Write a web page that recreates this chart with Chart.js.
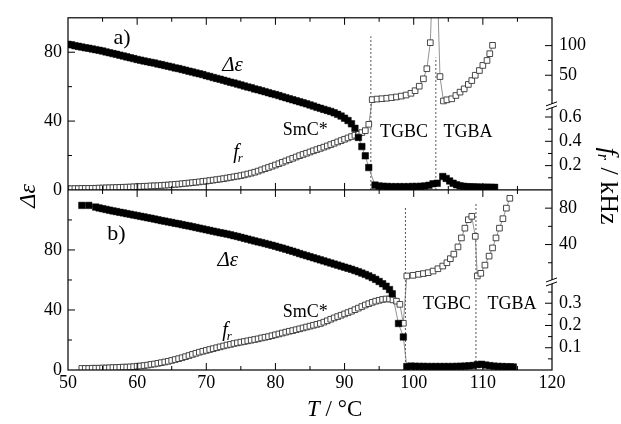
<!DOCTYPE html>
<html><head><meta charset="utf-8">
<script src="https://cdn.jsdelivr.net/npm/chart.js@4.4.0/dist/chart.umd.min.js"></script>
<style>html,body{margin:0;padding:0;background:#fff;}canvas{display:block;}</style>
</head><body>
<canvas id="c" width="621" height="424"></canvas>
<script>
// ---------- DATA (panel a) ----------
const tempA_smc = [50,50.5,51,51.5,52,52.5,53,53.5,54,54.5,55,55.5,56,56.5,57,57.5,58,58.5,59,59.5,
  60,60.5,61,61.5,62,62.5,63,63.5,64,64.5,65,65.5,66,66.5,67,67.5,68,68.5,69,69.5,
  70,70.5,71,71.5,72,72.5,73,73.5,74,74.5,75,75.5,76,76.5,77,77.5,78,78.5,79,79.5,
  80,80.5,81,81.5,82,82.5,83,83.5,84,84.5,85,85.5,86,86.5,87,87.5,88,88.5,89,89.5,
  90,90.5,91,91.5,92,92.5,93,93.5];
const epsA_smc = [84.6,84.3,83.8,83.4,83.0,82.6,82.3,81.9,81.5,81.1,
  80.7,80.2,79.7,79.2,78.8,78.3,77.8,77.3,76.8,76.3,
  75.8,75.4,74.9,74.5,74.1,73.7,73.2,72.8,72.3,71.9,
  71.4,70.9,70.5,70.0,69.5,69.0,68.5,68.0,67.5,67.0,
  66.4,65.9,65.3,64.8,64.3,63.7,63.2,62.6,62.1,61.5,
  61.0,60.4,59.8,59.3,58.7,58.2,57.6,57.1,56.5,55.9,
  55.4,54.8,54.2,53.6,53.0,52.4,51.8,51.2,50.6,50.0,
  49.4,48.7,48.0,47.4,46.8,46.2,45.6,44.8,43.9,42.9,
  41.7,40.3,38.4,35.8,30.5,25.2,19.8,13.0];
const frA_smc = [.010,.010,.011,.011,.012,.012,.013,.013,.014,.015,
  .016,.017,.018,.019,.020,.021,.022,.023,.024,.026,
  .027,.028,.030,.031,.033,.034,.035,.037,.039,.041,
  .043,.046,.048,.051,.054,.057,.060,.063,.066,.070,
  .073,.077,.081,.085,.089,.093,.098,.103,.108,.113,
  .118,.124,.131,.138,.146,.155,.165,.175,.185,.195,
  .205,.216,.227,.238,.249,.260,.271,.282,.292,.302,
  .312,.322,.332,.342,.352,.362,.373,.384,.395,.406,
  .417,.428,.439,.450,.461,.472,.488,.540];
const tempA_tgb = [94.4,95.0,95.6,96.2,96.8,97.4,98.0,98.6,99.2,99.8,100.4,101.0,101.6,102.2,102.8,103.4,
  104.2,104.7,105.2,105.7,106.2,106.7,107.2,107.7,108.2,108.7,109.2,109.7,110.2,110.7,111.2,111.7];
const epsA_tgb = [2.8,2.3,2.1,2.0,1.9,1.9,1.9,1.9,1.9,2.0,2.0,2.1,2.3,2.7,3.6,3.9,
  7.8,6.7,5.2,3.9,3.0,2.4,2.1,1.9,1.8,1.7,1.7,1.6,1.6,1.6,1.5,1.5];
const tempA_hi = [94.0,94.7,95.4,96.1,96.8,97.5,98.2,98.9,99.6,100.2,100.8,101.4,101.9,102.4,103.1,103.8,
  104.3,104.8,105.5,106.1,106.7,107.3,107.9,108.4,108.9,109.5,110.0,110.6,111.0,111.4];
const frA_hi = [8.8,9.8,10.4,11.2,12.2,13.3,14.8,16.6,19.5,23.9,31.5,44.0,61.0,105.0,330,47.8,
  6.5,8.5,10.2,15.8,21.5,27.0,34.5,41.0,50.0,58.0,66.6,75.0,86.4,100.5];

// ---------- DATA (panel b) ----------
const tempB_smc = [52,53,54,54.5,55,55.5,56,56.5,57,57.5,58,58.5,59,59.5,60,60.5,61,61.5,62,62.5,63,63.5,
  64,64.5,65,65.5,66,66.5,67,67.5,68,68.5,69,69.5,70,70.5,71,71.5,72,72.5,73,73.5,
  74,74.5,75,75.5,76,76.5,77,77.5,78,78.5,79,79.5,80,80.5,81,81.5,82,82.5,83,83.5,
  84,84.5,85,85.5,86,86.5,87,87.5,88,88.5,89,89.5,90,90.5,91,91.5,92,92.5,93,93.5,
  94,94.5,95,95.5,96,96.5,96.9,97.8,98.5];
const epsB_smc = [109.7,109.7,
  108.6,108.0,107.5,107.0,106.5,106.0,105.6,105.1,104.7,104.2,
  103.8,103.3,102.9,102.4,102.0,101.5,101.1,100.6,100.1,99.6,
  99.2,98.7,98.3,97.8,97.4,96.9,96.4,96.0,95.5,95.0,
  94.5,94.0,93.5,93.0,92.5,92.0,91.5,91.1,90.6,90.1,
  89.5,89.0,88.4,87.8,87.2,86.6,86.0,85.4,84.9,84.3,
  83.7,83.1,82.5,81.8,81.2,80.5,79.8,79.1,78.4,77.6,
  76.9,76.2,75.5,74.8,74.1,73.4,72.7,72.0,71.3,70.6,
  69.9,69.2,68.5,67.8,67.1,66.3,65.5,64.6,63.7,62.7,
  61.6,60.4,59.0,57.5,55.8,53.6,50.8,31.0,22.0];
const tempB_tgb = [99.0,99.6,100.2,100.8,101.4,102.0,102.6,103.2,103.8,104.4,105.0,105.6,106.2,106.8,107.4,
  108.0,108.6,109.2,109.8,110.4,111.0,111.6,112.2,112.8,113.4,114.0,114.4];
const epsB_tgb = [2.3,2.6,2.5,2.4,2.4,2.3,2.3,2.3,2.3,2.3,2.3,2.3,2.4,2.5,2.6,
  2.8,3.0,3.6,3.8,3.3,2.9,2.6,2.4,2.3,2.2,2.1,2.0];
const tempB_fr = [52,52.5,53,53.5,54,54.5,55,55.5,56,56.5,57,57.5,58,58.5,59,59.5,60,60.5,61,61.5,
  62,62.5,63,63.5,64,64.5,65,65.5,66,66.5,67,67.5,68,68.5,69,69.5,70,70.5,71,71.5,
  72,72.5,73,73.5,74,74.5,75,75.5,76,76.5,77,77.5,78,78.5,79,79.5,80,80.5,81,81.5,
  82,82.5,83,83.5,84,84.5,85,85.5,86,86.5,87,87.5,88,88.5,89,89.5,90,90.5,91,91.5,
  92,92.5,93,93.5,94,94.5,95,95.5,96,96.5,97,97.5,98,98.5];
const frB_lo = [.007,.007,.007,.008,.008,.008,.009,.009,.010,.011,
  .011,.012,.013,.013,.014,.015,.017,.018,.020,.022,
  .025,.027,.030,.033,.036,.039,.043,.047,.051,.055,
  .060,.065,.070,.075,.080,.084,.088,.092,.096,.100,
  .104,.108,.112,.115,.119,.122,.125,.128,.131,.134,
  .137,.140,.144,.147,.150,.154,.158,.162,.166,.170,
  .174,.177,.181,.185,.189,.193,.197,.201,.205,.209,
  .215,.221,.228,.234,.240,.246,.252,.258,.264,.271,
  .278,.285,.292,.298,.304,.309,.313,.317,.319,.319,
  .315,.309,.295,.210];
const tempB_hi = [99.0,99.9,100.7,101.4,102.1,102.8,103.5,104.2,104.8,105.3,105.8,106.4,106.9,107.4,107.9,108.4,108.9,
  109.2,109.7,110.3,110.9,111.4,111.9,112.4,112.9,113.4,113.9];
const frB_hi = [5.5,6.2,7.3,8.1,9.1,10.9,13.4,16.4,20.0,24.5,29.5,37.4,47.3,58.0,67.3,71.0,49.0,
  5.5,8.4,17.4,27.3,36.3,47.3,58.0,68.4,80.0,90.8];

// phase boundaries (temperature, top value on left axis)
const boundA = [[93.8, 89.3], [103.2, 77.0]];
const boundB = [[98.8, 108.0], [109.0, 110.7]];

// tick labels
const xLabels = [50,60,70,80,90,100,110,120];
const yALabels = [0,40,80];
const yBLabels = [0,40,80];
const yAhiLabels = [50,100];
const yAloLabels = [0.2,0.4,0.6];
const yBhiLabels = [40,80];
const yBloLabels = [0.1,0.2,0.3];

// ---------- CHART ----------
const SERIF = '"Liberation Serif","Times New Roman",serif';
Chart.defaults.font.family = SERIF;
const pts = (T, V) => T.map((t, i) => ({x: t, y: V[i]}));
const filled = {pointStyle:'rect', pointRadius:4.6, pointBackgroundColor:'#000', pointBorderColor:'#000',
  pointBorderWidth:0.5, borderColor:'#777', borderWidth:0.8, showLine:true, tension:0};
const open = {pointStyle:'rect', pointRadius:4, pointBackgroundColor:'#fff', pointBorderColor:'#333',
  pointBorderWidth:0.9, borderColor:'#777', borderWidth:0.8, showLine:true, tension:0};
const dashed = (b, yId) => ({data:[{x:b[0], y:0}, {x:b[0], y:b[1]}], yAxisID:yId, showLine:true,
  borderColor:'#555', borderWidth:1, borderDash:[2,2], pointRadius:0});

const datasets = [
  Object.assign({data: pts(tempA_smc.concat(tempA_tgb), epsA_smc.concat(epsA_tgb)), yAxisID:'yA'}, filled),
  Object.assign({data: pts(tempB_smc.concat(tempB_tgb), epsB_smc.concat(epsB_tgb)), yAxisID:'yB'}, filled),
  Object.assign({data: pts(tempA_smc, frA_smc), yAxisID:'yAlo'}, open),
  Object.assign({data: pts(tempA_hi, frA_hi), yAxisID:'yAhi'}, open),
  Object.assign({data: pts(tempB_fr, frB_lo), yAxisID:'yBlo'}, open),
  Object.assign({data: pts(tempB_hi, frB_hi), yAxisID:'yBhi'}, open),
  dashed(boundA[0], 'yA'), dashed(boundA[1], 'yA'), dashed(boundB[0], 'yB'), dashed(boundB[1], 'yB')
];

const tickFont = {family: SERIF, size: 18};
const has = (arr, v) => arr.some(a => Math.abs(a - v) < 1e-6);
function yAxis(pos, stack, sw, w, min, max, step, labels, fmt) {
  return {type:'linear', position:pos, stack:stack, stackWeight:sw, weight:w, min:min, max:max, offset:false,
    grid:{display:false, drawTicks:false}, border:{display:false},
    ticks:{stepSize:step, autoSkip:false, font:tickFont, color:'#000', padding: pos === 'left' ? 6 : 7,
      callback: v => has(labels, v) ? (fmt ? v.toFixed(1) : String(Math.round(v))) : ''},
    afterFit(s){ s.width = pos === 'left' ? 68 : 69; }};
}

function ticksOf(scale, fn) {
  scale.ticks.forEach(tk => {
    if (tk.value <= scale.min + 1e-9 || tk.value >= scale.max - 1e-9) return;
    const major = tk.label !== '' && tk.label !== undefined && tk.label !== null;
    fn(scale.getPixelForValue(tk.value), major ? 7 : 4);
  });
}

const deco = {
  id: 'deco',
  beforeDatasetsDraw(chart) {
    const ctx = chart.ctx;
    ctx.save();
    ctx.strokeStyle = '#777'; ctx.lineWidth = 0.8;
    for (const [lo, hi] of [[2, 3], [4, 5]]) {
      const a = chart.getDatasetMeta(lo).data, b = chart.getDatasetMeta(hi).data;
      const p = a[a.length - 1], q = b[0];
      ctx.beginPath(); ctx.moveTo(p.x, p.y); ctx.lineTo(q.x, q.y); ctx.stroke();
    }
    ctx.restore();
  },
  afterDatasetsDraw(chart) {
    const {ctx, chartArea: a, scales: s} = chart;
    const midY = s.yA.bottom;
    ctx.save();
    ctx.strokeStyle = '#000'; ctx.lineWidth = 1.2;
    ctx.strokeRect(a.left, a.top, a.right - a.left, a.bottom - a.top);
    ctx.beginPath(); ctx.moveTo(a.left, midY); ctx.lineTo(a.right, midY); ctx.stroke();
    ctx.lineWidth = 1;
    ctx.beginPath();
    ticksOf(s.x, (p, l) => {
      ctx.moveTo(p, a.top); ctx.lineTo(p, a.top + l);
      ctx.moveTo(p, midY - l); ctx.lineTo(p, midY + l);
      ctx.moveTo(p, a.bottom); ctx.lineTo(p, a.bottom - l);
    });
    for (const id of ['yA', 'yB']) ticksOf(s[id], (p, l) => { ctx.moveTo(a.left, p); ctx.lineTo(a.left + l, p); });
    for (const id of ['yAhi', 'yAlo', 'yBhi', 'yBlo']) ticksOf(s[id], (p, l) => { ctx.moveTo(a.right, p); ctx.lineTo(a.right - l, p); });
    ctx.stroke();
    // axis breaks
    for (const y of [s.yAhi.bottom, s.yBhi.bottom]) {
      const x0 = a.right - 6, x1 = a.right + 5;
      ctx.fillStyle = '#fff';
      ctx.beginPath(); ctx.moveTo(x0, y + 1); ctx.lineTo(x1, y - 3); ctx.lineTo(x1, y + 1); ctx.lineTo(x0, y + 5); ctx.closePath(); ctx.fill();
      ctx.beginPath(); ctx.moveTo(x0, y + 1); ctx.lineTo(x1, y - 3); ctx.moveTo(x0, y + 5); ctx.lineTo(x1, y + 1); ctx.stroke();
    }
    ctx.restore();
  },
  afterDraw(chart) {
    const {ctx, chartArea: a, scales: s} = chart;
    ctx.save();
    ctx.fillStyle = '#000';
    const put = (txt, xv, yv, yId, font, align, base) => {
      ctx.font = font; ctx.textAlign = align || 'center'; ctx.textBaseline = base || 'alphabetic';
      ctx.fillText(txt, s.x.getPixelForValue(xv), s[yId].getPixelForValue(yv));
    };
    const fr = (xv, yv, yId) => {
      const x = s.x.getPixelForValue(xv), y = s[yId].getPixelForValue(yv);
      ctx.textAlign = 'left'; ctx.textBaseline = 'alphabetic';
      ctx.font = 'italic 20px ' + SERIF; ctx.fillText('f', x, y);
      const w = ctx.measureText('f').width;
      ctx.font = 'italic 13px ' + SERIF; ctx.fillText('r', x + w - 1, y + 4);
    };
    // panel a
    put('a)', 57.8, 87.9, 'yA', '22px ' + SERIF, 'center', 'middle');
    put('\u0394\u03B5', 73.8, 69.0, 'yA', 'italic 21px ' + SERIF);
    put('SmC*', 84.3, 32.2, 'yA', '18px ' + SERIF);
    fr(73.9, 18.4, 'yA');
    put('TGBC', 98.6, 30.5, 'yA', '18px ' + SERIF);
    put('TGBA', 107.85, 30.5, 'yA', '18px ' + SERIF);
    // panel b
    put('b)', 57.0, 90.3, 'yB', '22px ' + SERIF, 'center', 'middle');
    put('\u0394\u03B5', 73.1, 69.2, 'yB', 'italic 21px ' + SERIF);
    put('SmC*', 84.3, 35.1, 'yB', '18px ' + SERIF);
    fr(72.3, 22.4, 'yB');
    put('TGBC', 104.8, 40.7, 'yB', '18px ' + SERIF);
    put('TGBA', 114.2, 40.7, 'yB', '18px ' + SERIF);

    // left title
    ctx.save();
    ctx.translate(29, (a.top + a.bottom) / 2 + 2);
    ctx.rotate(-Math.PI / 2);
    ctx.font = 'italic 24px ' + SERIF; ctx.textAlign = 'center'; ctx.textBaseline = 'middle';
    ctx.fillText('\u0394\u03B5', 0, 0);
    ctx.restore();

    // right title
    ctx.save();
    ctx.translate(608, 0);
    ctx.rotate(Math.PI / 2);
    ctx.textBaseline = 'middle'; ctx.textAlign = 'left';
    const f1 = 'italic 26px ' + SERIF, f2 = 'italic 16px ' + SERIF, f3 = '26px ' + SERIF;
    ctx.font = f1; const wf = ctx.measureText('f').width;
    ctx.font = f2; const wr = ctx.measureText('r').width;
    ctx.font = f3; const wk = ctx.measureText(' / kHz').width;
    let xx = 186 - (wf + wr + wk) / 2;
    ctx.font = f1; ctx.fillText('f', xx, 0); xx += wf;
    ctx.font = f2; ctx.fillText('r', xx - 1, 6); xx += wr;
    ctx.font = f3; ctx.fillText(' / kHz', xx, 0);
    ctx.restore();

    // x title
    ctx.textAlign = 'left'; ctx.textBaseline = 'alphabetic';
    ctx.font = 'italic 23px ' + SERIF; ctx.fillText('T', 307, 416);
    const wt = ctx.measureText('T').width;
    ctx.font = '23px ' + SERIF; ctx.fillText(' / \u00B0C', 307 + wt, 416);
    ctx.restore();
  }
};

new Chart(document.getElementById('c'), {
  type: 'scatter',
  data: {datasets},
  options: {
    responsive: false, animation: false, events: [],
    layout: {padding: {top: 14, left: 0, right: 0, bottom: 0}},
    plugins: {legend: {display: false}, tooltip: {enabled: false}},
    scales: {
      x: {type:'linear', position:'bottom', min:50, max:120, offset:false,
        grid:{display:false, drawTicks:false}, border:{display:false},
        ticks:{stepSize:5, autoSkip:false, maxRotation:0, font:tickFont, color:'#000', padding:2,
          callback: v => has(xLabels, v) ? String(v) : ''},
        afterFit(s){ s.height = 54; }},
      yA: yAxis('left', 'L', 174, 2, 0, 100, 20, yALabels, false),
      yB: yAxis('left', 'L', 182, 1, 0, 120, 20, yBLabels, false),
      yAhi: yAxis('right', 'R', 88, 1, 0, 147, 25, yAhiLabels, false),
      yAlo: yAxis('right', 'R', 86, 2, 0, 0.7, 0.1, yAloLabels, true),
      yBhi: yAxis('right', 'R', 92, 3, 0, 100, 20, yBhiLabels, false),
      yBlo: yAxis('right', 'R', 90, 4, 0, 0.4, 0.05, yBloLabels, true)
    }
  },
  plugins: [deco]
});
</script>
</body></html>
